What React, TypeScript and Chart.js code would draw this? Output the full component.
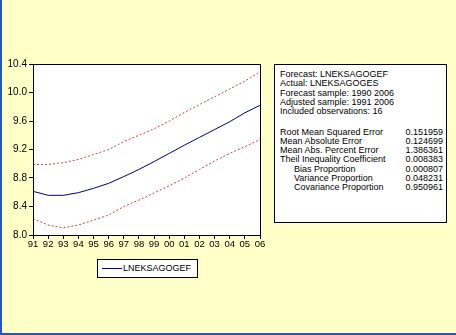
import React, { useEffect, useRef } from "react";
import { Chart, registerables } from "chart.js";

Chart.register(...registerables);

const years = ["91", "92", "93", "94", "95", "96", "97", "98", "99", "00", "01", "02", "03", "04", "05", "06"];
const forecast = [8.613, 8.557, 8.557, 8.594, 8.655, 8.725, 8.82, 8.92, 9.03, 9.145, 9.26, 9.37, 9.48, 9.59, 9.715, 9.82];
const upperBand = [8.99, 8.99, 9.015, 9.06, 9.13, 9.2, 9.31, 9.4, 9.49, 9.6, 9.72, 9.83, 9.94, 10.05, 10.16, 10.29];
const lowerBand = [8.23, 8.14, 8.1, 8.14, 8.21, 8.28, 8.4, 8.49, 8.59, 8.69, 8.8, 8.92, 9.04, 9.145, 9.24, 9.34];
const yTicks = [8.0, 8.4, 8.8, 9.2, 9.6, 10.0, 10.4];

const headerLines = [
  "Forecast: LNEKSAGOGEF",
  "Actual: LNEKSAGOGES",
  "Forecast sample: 1990 2006",
  "Adjusted sample: 1991 2006",
  "Included observations: 16",
];
const statLabels = [
  "Root Mean Squared Error",
  "Mean Absolute Error",
  "Mean Abs. Percent Error",
  "Theil Inequality Coefficient",
  "Bias Proportion",
  "Variance Proportion",
  "Covariance Proportion",
];
const statValues = ["0.151959", "0.124699", "1.386361", "0.008383", "0.000807", "0.048231", "0.950961"];
const statIndent = [false, false, false, false, true, true, true];
const legendLabel = "LNEKSAGOGEF";

const BG = "#FFFFC8";
const FONT = "'Liberation Sans', Arial, sans-serif";

export default function App() {
  const ref = useRef<HTMLCanvasElement | null>(null);

  useEffect(() => {
    if (!ref.current) return;
    const framePlugin = {
      id: "frame",
      beforeDraw(chart: any) {
        const { ctx, chartArea } = chart;
        ctx.save();
        ctx.fillStyle = BG;
        ctx.fillRect(0, 0, chart.width, chart.height);
        ctx.fillStyle = "#ffffff";
        ctx.fillRect(chartArea.left, chartArea.top, chartArea.right - chartArea.left, chartArea.bottom - chartArea.top);
        ctx.restore();
      },
      afterDraw(chart: any) {
        const { ctx, chartArea } = chart;
        ctx.save();
        ctx.strokeStyle = "#000000";
        ctx.lineWidth = 1;
        ctx.strokeRect(
          Math.round(chartArea.left) + 0.5,
          Math.round(chartArea.top) + 0.5,
          Math.round(chartArea.right - chartArea.left),
          Math.round(chartArea.bottom - chartArea.top)
        );
        ctx.fillStyle = "#2456C8";
        ctx.fillRect(0, 0, 2, chart.height);
        ctx.fillRect(0, chart.height - 2, chart.width, 2);
        ctx.restore();
      },
    };

    const chart = new Chart(ref.current, {
      type: "line",
      data: {
        labels: years,
        datasets: [
          {
            label: "upper",
            data: upperBand,
            borderColor: "#C04848",
            borderWidth: 1,
            borderDash: [2, 2],
            pointRadius: 0,
            tension: 0,
          },
          {
            label: legendLabel,
            data: forecast,
            borderColor: "#000080",
            borderWidth: 1,
            pointRadius: 0,
            tension: 0,
          },
          {
            label: "lower",
            data: lowerBand,
            borderColor: "#C04848",
            borderWidth: 1,
            borderDash: [2, 2],
            pointRadius: 0,
            tension: 0,
          },
        ],
      },
      options: {
        responsive: false,
        animation: false,
        layout: { padding: { left: 0, top: 64, right: 196, bottom: 80 } },
        plugins: { legend: { display: false }, tooltip: { enabled: false } },
        scales: {
          x: {
            type: "category",
            offset: false,
            grid: { drawOnChartArea: false, drawTicks: true, tickLength: 4, color: "#000" },
            border: { display: true, color: "#000" },
            ticks: {
              autoSkip: false,
              maxRotation: 0,
              padding: 0,
              color: "#000",
              font: { family: FONT, size: 9.5 },
            },
            afterFit: (s: any) => {
              s.height = 20;
            },
          },
          y: {
            min: 8.0,
            max: 10.4,
            afterBuildTicks: (s: any) => {
              s.ticks = yTicks.map((v) => ({ value: v }));
            },
            grid: { drawOnChartArea: false, drawTicks: true, tickLength: 4, color: "#000" },
            border: { display: true, color: "#000" },
            ticks: {
              padding: 2,
              color: "#000",
              font: { family: FONT, size: 10 },
              callback: (v: any) => Number(v).toFixed(1),
            },
            afterFit: (s: any) => {
              s.width = 33;
            },
          },
        },
      },
      plugins: [framePlugin],
    } as any);
    return () => chart.destroy();
  }, []);

  const statTop = 64;
  const headerY = [74, 83.3, 92.5, 101.8, 111];
  const statY = [131.7, 141, 150.2, 159.4, 168.7, 178, 187.3];

  const textStyle: React.CSSProperties = {
    position: "absolute",
    fontFamily: FONT,
    fontSize: "9px",
    lineHeight: "10px",
    color: "#000",
    whiteSpace: "nowrap",
  };

  return (
    <div style={{ position: "absolute", left: 0, top: 0, width: 456, height: 335, background: BG }}>
      <canvas ref={ref} width={456} height={335} style={{ display: "block" }} />
      <div
        style={{
          position: "absolute",
          left: 274,
          top: statTop,
          width: 171,
          height: 157,
          border: "1px solid #000",
          background: "#fff",
        }}
      />
      {headerLines.map((t, i) => (
        <div key={"h" + i} style={{ ...textStyle, left: 280, top: headerY[i] - 5 }}>
          {t}
        </div>
      ))}
      {statLabels.map((t, i) => (
        <div key={"l" + i} style={{ ...textStyle, left: statIndent[i] ? 294 : 280, top: statY[i] - 5 }}>
          {t}
        </div>
      ))}
      {statValues.map((t, i) => (
        <div key={"v" + i} style={{ ...textStyle, left: 398, width: 45, textAlign: "right", top: statY[i] - 5 }}>
          {t}
        </div>
      ))}
      <div
        style={{
          position: "absolute",
          left: 97,
          top: 259,
          width: 99,
          height: 17,
          border: "1px solid #000",
          background: "#fff",
        }}
      >
        <div style={{ position: "absolute", left: 4, top: 8, width: 20, height: 1, background: "#000080" }} />
        <div style={{ ...textStyle, fontSize: "9px", left: 25, top: 3 }}>{legendLabel}</div>
      </div>
    </div>
  );
}
